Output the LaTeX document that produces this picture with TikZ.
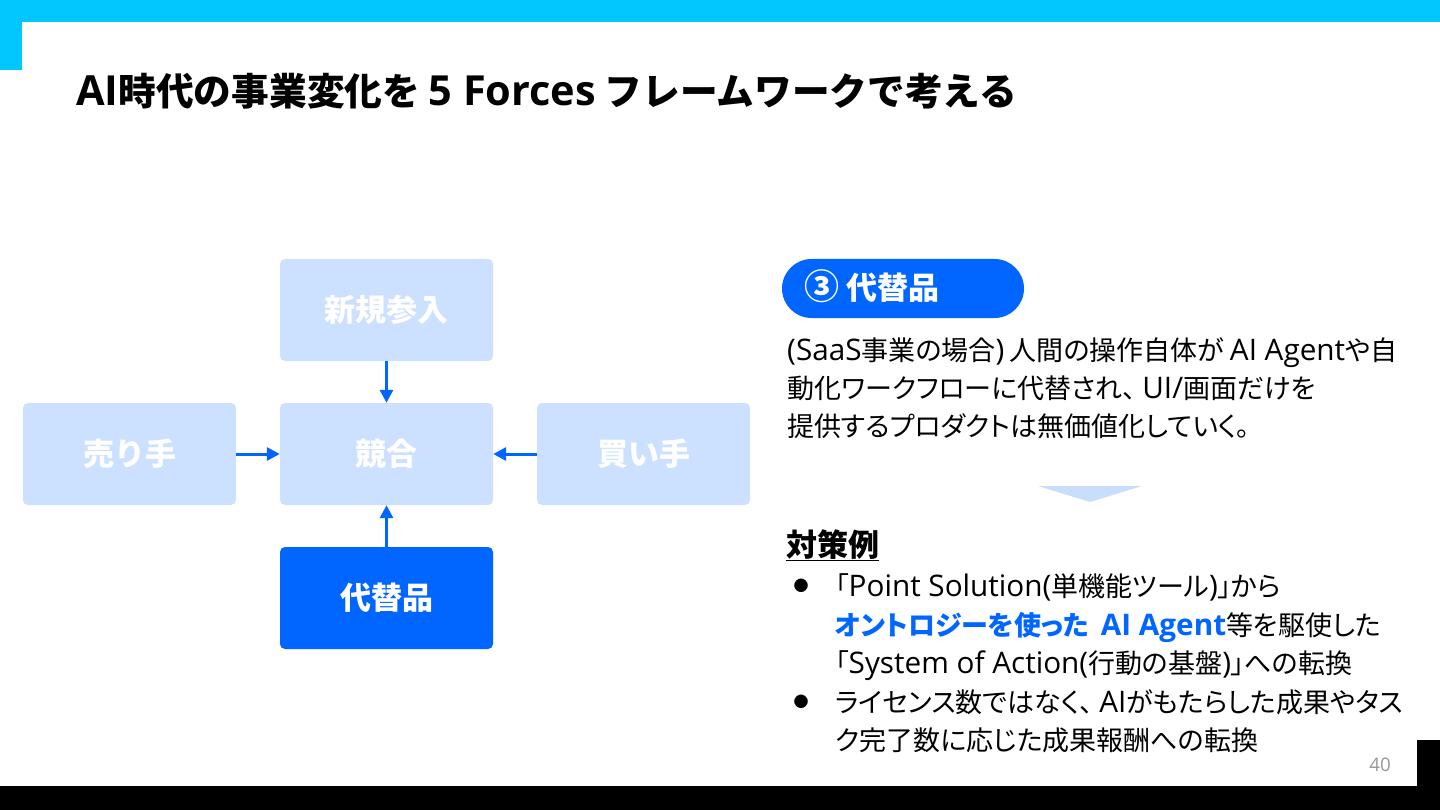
\documentclass[tikz,border=0pt]{standalone}
\usepackage{fontspec}
\setmainfont{Noto Sans CJK JP}
\newfontfamily\enfont{Open Sans}[Scale=1.1]
\newcommand\en[1]{{\enfont #1}}
\usetikzlibrary{arrows.meta}
\definecolor{cyanbar}{RGB}{0,200,255}
\definecolor{mainblue}{RGB}{0,102,255}
\definecolor{lightbox}{RGB}{204,224,255}
\definecolor{tri}{RGB}{200,222,252}
\definecolor{pagegray}{RGB}{150,150,150}
\tikzset{
  force/.style={fill=lightbox, rounded corners=5pt, minimum width=213pt, minimum height=102pt,
    inner sep=0pt, text=white, font=\fontsize{31}{36}\selectfont\bfseries},
  focus/.style={force, fill=mainblue},
  link/.style={draw=mainblue, line width=3pt, -{Triangle[length=13pt,width=13pt]}},
  para/.style={anchor=base west, inner sep=0pt, font=\fontsize{27}{30}\selectfont\addfontfeature{RawFeature=+palt}},
  title/.style={anchor=base west, inner sep=0pt, font=\fontsize{37.7}{44}\selectfont\bfseries},
  bullet/.style={anchor=center, inner sep=0pt, font=\fontsize{15}{18}\selectfont},
}
\begin{document}
\begin{tikzpicture}[x=1pt,y=-1pt]
\useasboundingbox (0,0) rectangle (1440,810);
% frame bars
\fill[cyanbar] (0,0) rectangle (1440,22);
\fill[cyanbar] (0,0) rectangle (22,70);
\fill[black] (0,786) rectangle (1440,810);
\fill[black] (1417,740) rectangle (1440,810);
% title
\node[title] (ttl) at (76,106) {\en{AI}時代の事業変化を \en{5 Forces} フレームワークで考える};
% five forces
\node[force] (entry) at (386.5,310) {新規参入};
\node[force] (comp) at (386.5,454) {競合};
\node[force] (seller) at (129.5,454) {売り手};
\node[force] (buyer) at (643.5,454) {買い手};
\node[focus] (subst) at (386.5,598) {代替品};
\draw[link] (entry.south) -- (comp.north);
\draw[link] (seller.east) -- (comp.west);
\draw[link] (buyer.west) -- (comp.east);
\draw[link] (subst.north) -- (comp.south);
% pill
\node[fill=mainblue, rounded corners=29.5pt, minimum width=242pt, minimum height=59pt, inner sep=0pt] (pill) at (903,288.5) {};
\node[anchor=base west, inner sep=0pt, text=white, font=\fontsize{31}{36}\selectfont\bfseries] (pilltxt) at (804,300) {{\fontsize{35}{36}\selectfont ③} 代替品};
% paragraph
\node[para] (p1) at (787,360) {\en{(SaaS}事業の場合\en{)}\hspace{5pt}人間の操作自体が \en{AI Agent}や自};
\node[para] (p2) at (787,398) {動化ワークフローに代替され、\hspace{6pt}\en{UI/}画面だけを};
\node[para] (p3) at (787,436) {提供するプロダクトは無価値化していく。};
% triangle
\fill[tri] (1038,486) -- (1142,486) -- (1090,502) -- cycle;
% measures
\node[anchor=base west, inner sep=0pt, font=\fontsize{31}{34}\selectfont\bfseries] (hd) at (786,556) {\underline{対策例}};
\node[bullet] (b1) at (801,586) {●};
\node[bullet] (b2) at (801,702) {●};
\node[para] (l1) at (835,596) {「\en{Point Solution(}単機能ツール\en{)}」から};
\node[para] (l2) at (835,635) {{\color{mainblue}\bfseries オントロジーを使った\hspace{12pt}\en{AI Agent}}等を駆使した};
\node[para] (l3) at (835,673) {「\en{System of Action(}行動の基盤\en{)}」への転換};
\node[para] (l4) at (835,712) {ライセンス数ではなく、\hspace{6pt}\en{AI}がもたらした成果やタス};
\node[para] (l5) at (835,750) {ク完了数に応じた成果報酬への転換};
% page number
\node[inner sep=0pt, text=pagegray, font=\fontsize{17}{20}\selectfont] (pg) at (1380,765) {\en{40}};
\end{tikzpicture}
\end{document}
